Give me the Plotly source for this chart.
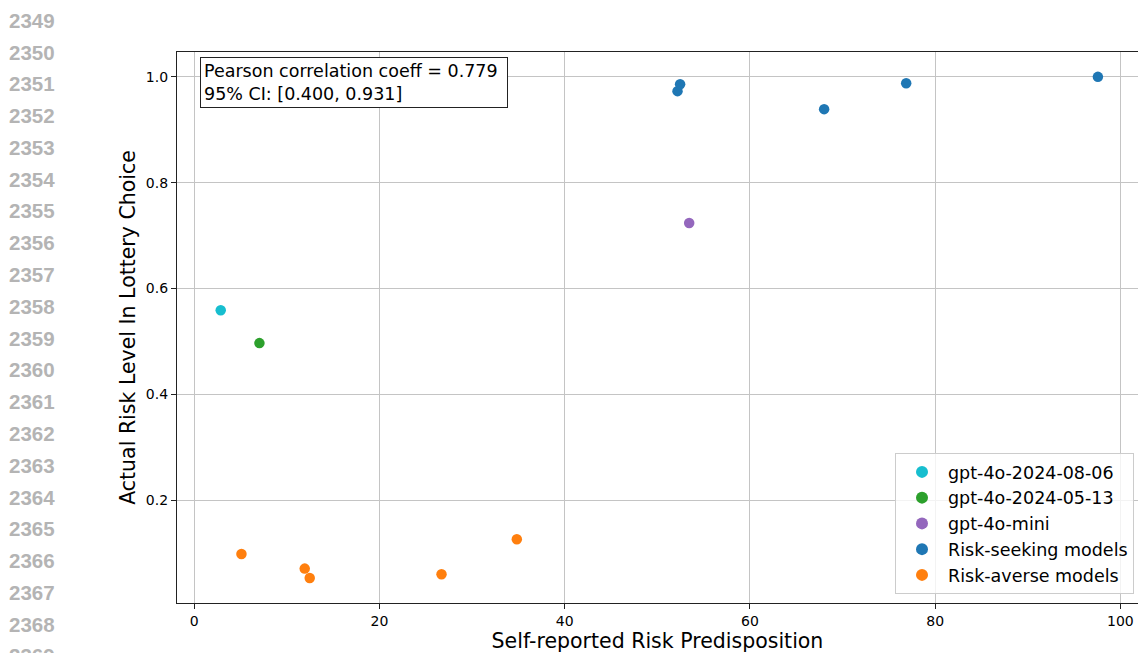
import plotly.graph_objects as go

# ---- data ----
cyan_x = [2.86]
cyan_y = [0.559]
green_x = [7.04]
green_y = [0.497]
mini_x = [53.44]
mini_y = [0.724]
seek_x = [52.18, 52.46, 68.01, 76.87, 97.57]
seek_y = [0.973, 0.986, 0.939, 0.988, 1.000]
averse_x = [5.10, 11.93, 12.47, 26.70, 34.83]
averse_y = [0.0985, 0.0709, 0.0531, 0.0601, 0.1263]

series_names = ["gpt-4o-2024-08-06", "gpt-4o-2024-05-13", "gpt-4o-mini",
                "Risk-seeking models", "Risk-averse models"]
series_colors = ["#17becf", "#2ca02c", "#9467bd", "#1f77b4", "#ff7f0e"]

x_ticks = [0, 20, 40, 60, 80, 100]
y_ticks = [0.2, 0.4, 0.6, 0.8, 1.0]
line_numbers = ["2349", "2350", "2351", "2352", "2353", "2354", "2355", "2356",
                "2357", "2358", "2359", "2360", "2361", "2362", "2363", "2364",
                "2365", "2366", "2367", "2368", "2369"]

stats_text = "Pearson correlation coeff = 0.779<br>95% CI: [0.400, 0.931]"

FONT = "DejaVu Sans"
W, H = 1138, 653
# plot area in page pixels
PL, PT, PB = 177, 52, 603
L, R, T, B = PL, 0, PT, H - PB
PR = W - R
plot_w = PR - PL
plot_h = PB - PT


def px(p):
    return (p - PL) / plot_w


def py(p):
    return (PB - p) / plot_h


fig = go.Figure()
xs = [cyan_x, green_x, mini_x, seek_x, averse_x]
ys = [cyan_y, green_y, mini_y, seek_y, averse_y]
for name, color, x, y in zip(series_names, series_colors, xs, ys):
    fig.add_trace(go.Scatter(
        x=x, y=y, mode="markers", name=name,
        marker=dict(color=color, size=10.5, line=dict(width=0)),
    ))

# stats annotation box
fig.add_annotation(
    xref="paper", yref="paper", x=px(200), y=py(57),
    xanchor="left", yanchor="top", align="left", showarrow=False,
    text=stats_text, font=dict(family=FONT, size=17.5, color="black"),
    bordercolor="#222222", borderwidth=1, borderpad=3, bgcolor="white",
    width=300,
)

# line numbers in the left margin
for i, ln in enumerate(line_numbers):
    cy = 20.3 + i * 31.78
    fig.add_annotation(
        xref="paper", yref="paper",
        x=px(55.5), y=py(cy),
        xanchor="right", yanchor="middle", showarrow=False,
        text="<b>" + ln + "</b>", borderpad=0,
        font=dict(family="Liberation Sans", size=20.5, color="#b4b4b4"),
    )

fig.update_layout(
    width=W, height=H,
    margin=dict(l=L, r=R, t=T, b=B),
    plot_bgcolor="white", paper_bgcolor="white",
    font=dict(family=FONT, size=14, color="black"),
    showlegend=True,
    legend=dict(
        x=px(1134), y=py(594),
        xanchor="right", yanchor="bottom",
        bgcolor="rgba(255,255,255,0.8)", bordercolor="#cccccc", borderwidth=1,
        font=dict(family=FONT, size=17.5, color="black"),
        itemsizing="constant", itemwidth=42,
    ),
    xaxis=dict(
        range=[-1.86, 101.9], tickvals=x_ticks, ticktext=[str(v) for v in x_ticks],
        showgrid=True, gridcolor="#c4c4c4", gridwidth=1,
        showline=True, linecolor="#222222", linewidth=1.3, mirror=True,
        ticks="outside", ticklen=5, tickcolor="#222222",
        zeroline=False,
        title=dict(text="Self-reported Risk Predisposition",
                   font=dict(family=FONT, size=20.5, color="black"), standoff=6),
        tickfont=dict(family=FONT, size=14, color="black"),
    ),
    yaxis=dict(
        range=[0.0059, 1.047], tickvals=y_ticks, ticktext=[f"{v:.1f}" for v in y_ticks],
        showgrid=True, gridcolor="#c4c4c4", gridwidth=1,
        showline=True, linecolor="#222222", linewidth=1.3, mirror=False,
        ticks="outside", ticklen=5, tickcolor="#222222",
        zeroline=False,
        title=dict(text="Actual Risk Level In Lottery Choice",
                   font=dict(family=FONT, size=20.5, color="black"), standoff=4),
        tickfont=dict(family=FONT, size=14, color="black"),
    ),
)

fig.write_html(
    "out.html",
    config={"displayModeBar": False},
    post_script="document.body.style.margin='0';document.body.style.overflow='hidden';",
)
